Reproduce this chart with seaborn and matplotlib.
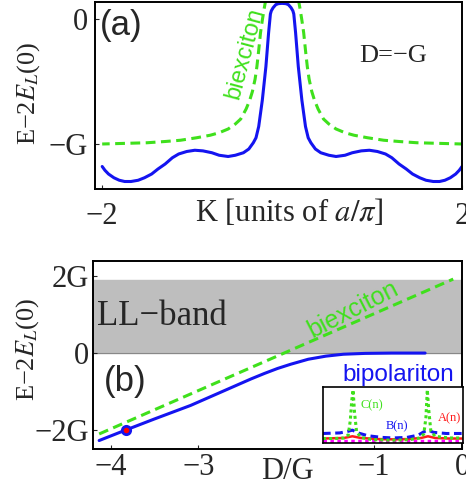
import numpy as np
import pandas as pd
import matplotlib
matplotlib.use("Agg")
import matplotlib.pyplot as plt
import seaborn as sns

# ---- panel (a): dispersion at D=-G (half curves, mirrored about K=0)
k_half = [0.0, 0.04, 0.07, 0.10, 0.12, 0.13, 0.15, 0.18, 0.22, 0.26, 0.29, 0.32, 0.37,
          0.43, 0.52, 0.60, 0.70, 0.78, 0.88, 0.97, 1.06, 1.15, 1.22, 1.30, 1.38,
          1.45, 1.53, 1.60, 1.68, 1.75, 1.81, 1.87, 1.93, 1.97, 2.0]
bipol_half = [0.125, 0.123, 0.115, 0.09, 0.065, 0.04, -0.11, -0.38, -0.65, -0.86, -0.95, -0.99,
              -1.04, -1.07, -1.09, -1.10, -1.09, -1.07, -1.055, -1.05, -1.06, -1.08, -1.11,
              -1.16, -1.20, -1.24, -1.27, -1.29, -1.30, -1.30, -1.29, -1.27, -1.24, -1.21, -1.18]
k_biex = [0.17, 0.20, 0.22, 0.24, 0.26, 0.28, 0.30, 0.33, 0.36, 0.40, 0.46, 0.52, 0.60,
          0.70, 0.80, 0.95, 1.13, 1.30, 1.50, 1.75, 2.0]
biex_a = [0.20, 0.08, -0.01, -0.11, -0.25, -0.38, -0.48, -0.58, -0.65, -0.72, -0.80, -0.84,
          -0.88, -0.91, -0.93, -0.95, -0.97, -0.98, -0.99, -0.995, -1.0]

# ---- panel (b): energies vs detuning
d_bipol = [-4.13, -3.83, -3.50, -3.09, -2.80, -2.60, -2.40, -2.25, -2.10, -1.95,
           -1.75, -1.55, -1.35, -1.10, -0.80, -0.42]
e_bipol = [-2.27, -2.00, -1.71, -1.36, -1.07, -0.87, -0.67, -0.53, -0.40, -0.29,
           -0.16, -0.08, -0.03, -0.008, 0.0, 0.0]
d_biex = [-4.13, -0.10]
e_biex = [-2.10, 1.92]
band_lo, band_hi = 0.0, 1.9
dot_d, dot_e = -3.83, -2.0

# ---- inset: amplitudes A(n), B(n), C(n)
n_c = [0.0, 0.08, 0.15, 0.18, 0.195, 0.205, 0.215, 0.225, 0.24, 0.27, 0.35, 0.5, 0.62,
       0.69, 0.72, 0.735, 0.745, 0.755, 0.77, 0.80, 0.90, 1.0]
c_n = [0.08, 0.08, 0.09, 0.14, 0.40, 0.75, 0.95, 0.55, 0.20, 0.10, 0.06, 0.05, 0.06,
       0.09, 0.16, 0.45, 0.95, 0.60, 0.22, 0.12, 0.09, 0.09]
n_b = [0.0, 0.12, 0.18, 0.21, 0.25, 0.32, 0.42, 0.5, 0.6, 0.68, 0.72, 0.75, 0.79, 0.88, 1.0]
b_n = [0.17, 0.18, 0.21, 0.23, 0.18, 0.13, 0.10, 0.09, 0.10, 0.14, 0.20, 0.23, 0.19, 0.17, 0.17]
n_a = [0.0, 0.15, 0.21, 0.27, 0.4, 0.5, 0.6, 0.7, 0.75, 0.8, 0.9, 1.0]
a_n = [0.08, 0.09, 0.12, 0.09, 0.07, 0.065, 0.07, 0.09, 0.12, 0.09, 0.08, 0.08]
n_m = [0.0, 1.0]
m_n = [0.03, 0.03]

blue = "#1414f0"
green = "#3fe01c"
ylab = "E\u22122$E_L$(0)"

sns.set_style("ticks")
plt.rcParams["font.family"] = ["Liberation Serif", "DejaVu Serif"]
plt.rcParams["mathtext.fontset"] = "stix"
plt.rcParams["axes.linewidth"] = 1.4
plt.rcParams["xtick.direction"] = "in"
plt.rcParams["ytick.direction"] = "in"
plt.rcParams["xtick.major.size"] = 3
plt.rcParams["ytick.major.size"] = 3
plt.rcParams["axes.edgecolor"] = "black"

W, H = 466, 496
fig = plt.figure(figsize=(4.66, 4.96), dpi=100)
ax1 = fig.add_axes([95 / W, 1 - 189 / H, 367 / W, 187 / H])
ax2 = fig.add_axes([93 / W, 1 - 449 / H, 369 / W, 188 / H])

# panel (a)
k_full = [-k for k in k_half[::-1]] + k_half[1:]
e_full = bipol_half[::-1] + bipol_half[1:]
sns.lineplot(x=k_full, y=e_full, ax=ax1, color=blue, lw=2.2, sort=False)
for sgn in (-1, 1):
    sns.lineplot(x=[sgn * k for k in k_biex], y=biex_a, ax=ax1, color=green, lw=2.2,
                 linestyle=(0, (3.2, 1.8)), sort=False)
ax1.set_xlim(-2.08, 2.0)
ax1.set_ylim(-1.36, 0.136)
ax1.set_xticks([-2, 2])
ax1.set_xticklabels(["\u22122", "2"])
ax1.set_yticks([0, -1])
ax1.set_yticklabels(["0", "\u2212G"])
ax1.tick_params(labelsize=22, pad=5)
ax1.tick_params(axis="x", pad=9)
ax1.set_xlabel(r"K [units of $a/\pi$]", fontsize=22, va="center")
ax1.xaxis.set_label_coords(0.53, -0.123)
fig.text(28.5 / W, 1 - 93 / H, ylab, fontsize=19, rotation=90, ha="center", va="center")
ax1.text(0.014, 0.877, "(a)", transform=ax1.transAxes, fontsize=25,
         family="Liberation Sans", va="center", ha="left")
ax1.text(0.812, 0.711, "D=\u2212G", transform=ax1.transAxes, fontsize=19,
         va="center", ha="center")
ax1.text(-0.42, -0.27, "biexciton", color=green, fontsize=17, family="Liberation Sans",
         rotation=75, ha="center", va="center")

# panel (b)
ax2.axhspan(band_lo, band_hi, color="#bebebe", zorder=0)
ax2.axhline(band_lo, color="#888888", lw=0.8, zorder=0)
sns.lineplot(x=d_biex, y=e_biex, ax=ax2, color=green, lw=2.2, linestyle=(0, (3.2, 1.8)))
sns.lineplot(x=d_bipol, y=e_bipol, ax=ax2, color=blue, lw=2.2)
ax2.plot([dot_d], [dot_e], "o", ms=6, mfc="red", mec=blue, mew=2)
ax2.set_xlim(-4.2, 0.0)
ax2.set_ylim(-2.49, 2.39)
ax2.set_xticks([-4, -3, -1, 0])
ax2.set_xticklabels(["\u22124", "\u22123", "\u22121", "0"])
ax2.set_yticks([-2, 0, 2])
ax2.set_yticklabels(["\u22122G", "0", "2G"])
ax2.tick_params(labelsize=22, pad=3)
ax2.set_xlabel("D/G", fontsize=22, va="center")
ax2.xaxis.set_label_coords(0.526, -0.122)
fig.text(27.5 / W, 1 - 349 / H, ylab, fontsize=19, rotation=90, ha="center", va="center")
ax2.text(-4.16, 0.94, "LL\u2212band", fontsize=25, ha="left", va="center")
ax2.text(-4.08, -0.75, "(b)", fontsize=25, family="Liberation Sans", ha="left", va="center")
ax2.text(-1.24, 1.14, "biexciton", color=green, fontsize=18, family="Liberation Sans",
         rotation=27, ha="center", va="center")
ax2.text(-0.72, -0.57, "bipolariton", color=blue, fontsize=17.5, family="Liberation Sans",
         ha="center", va="center")

# inset
axi = fig.add_axes([323 / W, 1 - 443 / H, 140 / W, 56 / H])
sns.lineplot(x=n_m, y=m_n, ax=axi, color="#ff00ff", lw=2.5, linestyle=(0, (1, 1)))
sns.lineplot(x=n_a, y=a_n, ax=axi, color="#ff1a1a", lw=1.8)
sns.lineplot(x=n_b, y=b_n, ax=axi, color=blue, lw=2.2, linestyle=(0, (2.5, 1.5)))
sns.lineplot(x=n_c, y=c_n, ax=axi, color=green, lw=2.2, linestyle=(0, (1, 1)), sort=False)
axi.set_xlim(0, 1)
axi.set_ylim(0, 1)
axi.set_xticks([])
axi.set_yticks([])
for s in axi.spines.values():
    s.set_linewidth(1.2)
axi.text(0.27, 0.62, "C(n)", color=green, fontsize=9, transform=axi.transAxes)
axi.text(0.45, 0.24, "B(n)", color=blue, fontsize=9, transform=axi.transAxes)
axi.text(0.82, 0.38, "A(n)", color="#ff1a1a", fontsize=9, transform=axi.transAxes)

fig.savefig("out.png", dpi=100)
